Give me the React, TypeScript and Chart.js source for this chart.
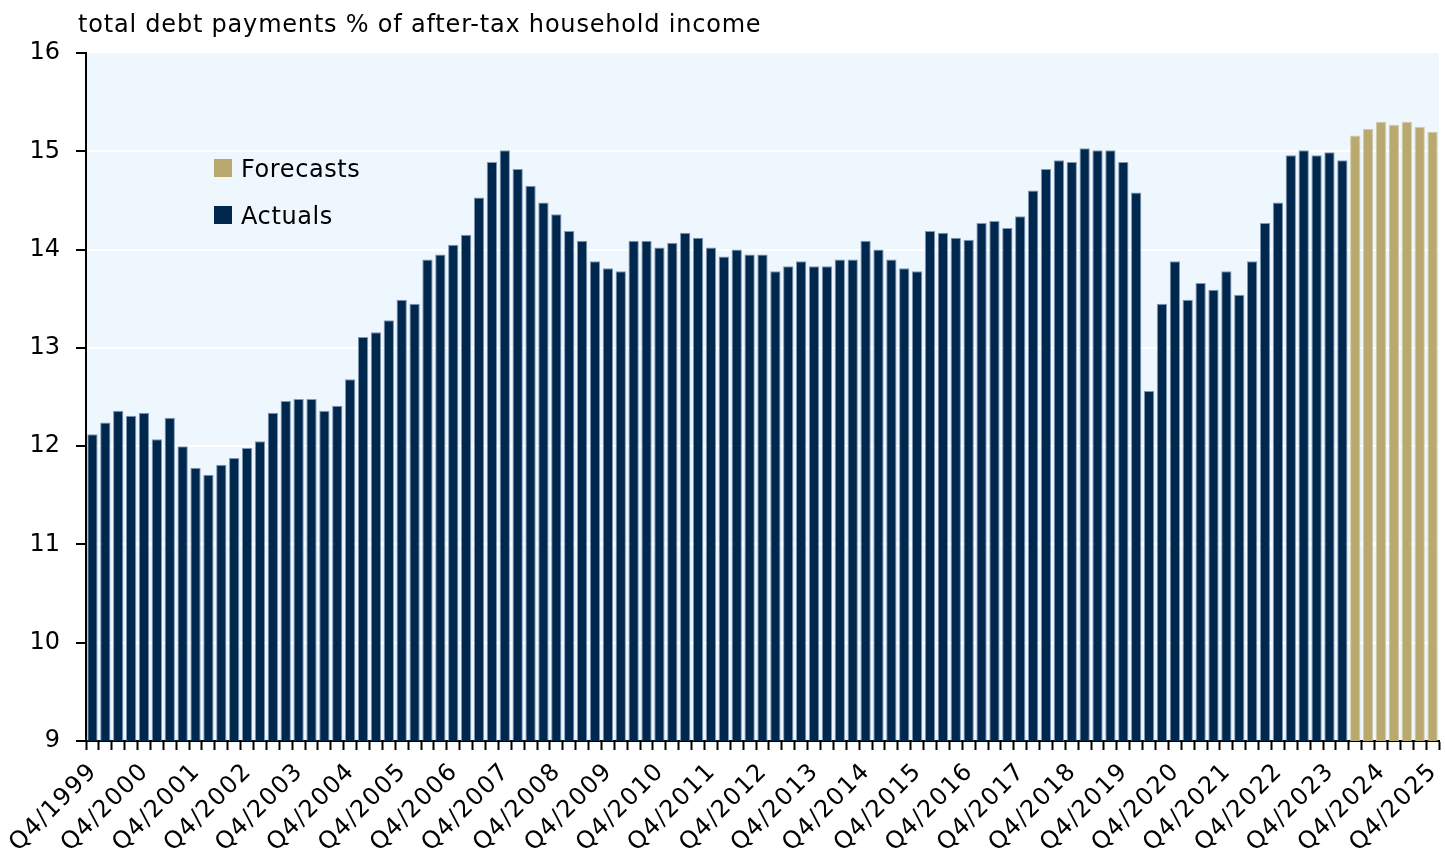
import React, { useEffect, useRef } from "react";
import { Chart, registerables } from "chart.js";

Chart.register(...registerables);

const TITLE = "total debt payments % of after-tax household income";

// Q4/1999 .. Q1/2024 (98 quarters)
const actuals: number[] = [
  12.12, 12.24, 12.36, 12.31, 12.34, 12.07, 12.29, 12.0, 11.78, 11.71,
  11.81, 11.88, 11.98, 12.05, 12.34, 12.46, 12.48, 12.48, 12.36, 12.41,
  12.68, 13.11, 13.16, 13.28, 13.49, 13.45, 13.9, 13.95, 14.05, 14.15,
  14.53, 14.89, 15.01, 14.82, 14.65, 14.48, 14.36, 14.19, 14.09, 13.88,
  13.81, 13.78, 14.09, 14.09, 14.02, 14.07, 14.17, 14.12, 14.02, 13.93,
  14.0, 13.95, 13.95, 13.78, 13.83, 13.88, 13.83, 13.83, 13.9, 13.9,
  14.09, 14.0, 13.9, 13.81, 13.78, 14.19, 14.17, 14.12, 14.1, 14.27,
  14.29, 14.22, 14.34, 14.6, 14.82, 14.91, 14.89, 15.03, 15.01, 15.01,
  14.89, 14.58, 12.56, 13.45, 13.88, 13.49, 13.66, 13.59, 13.78, 13.54,
  13.88, 14.27, 14.48, 14.96, 15.01, 14.96, 14.99, 14.91,
];

// Q2/2024 .. Q4/2025
const forecasts: number[] = [15.16, 15.23, 15.3, 15.27, 15.3, 15.25, 15.2];

const START_YEAR = 1999;
const START_QUARTER = 4;
const TOTAL = actuals.length + forecasts.length;
const labels: string[] = Array.from({ length: TOTAL }, (_, i) => {
  const k = START_QUARTER - 1 + i;
  return `Q${(k % 4) + 1}/${START_YEAR + Math.floor(k / 4)}`;
});
const LABEL_EVERY = 4;

const yTicks: number[] = [9, 10, 11, 12, 13, 14, 15, 16];

const NAVY = "#00284F";
const GOLD = "#B9A96E";
const FONT = "'DejaVu Sans', sans-serif";

export default function App() {
  const ref = useRef<HTMLCanvasElement | null>(null);

  useEffect(() => {
    if (!ref.current) return;
    const actualData = labels.map((_, i) => (i < actuals.length ? actuals[i] : null));
    const forecastData = labels.map((_, i) =>
      i >= actuals.length ? forecasts[i - actuals.length] : null
    );

    const bgPlugin = {
      id: "bg",
      beforeDraw(chart: any) {
        const { ctx, chartArea } = chart;
        ctx.save();
        ctx.fillStyle = "#EFF7FE";
        ctx.fillRect(chartArea.left, chartArea.top, chartArea.right - chartArea.left, chartArea.bottom - chartArea.top);
        ctx.restore();
      },
      afterDraw(chart: any) {
        const { ctx, chartArea } = chart;
        const xs = chart.scales.x;
        ctx.save();
        ctx.fillStyle = "#000";
        ctx.font = `24px ${FONT}`;
        (ctx as any).letterSpacing = "0.8px";
        ctx.textBaseline = "alphabetic";
        ctx.textAlign = "left";
        ctx.fillText(TITLE, 78, 32);
        // legend
        const items = [
          { label: "Forecasts", color: GOLD, y: 177 },
          { label: "Actuals", color: NAVY, y: 224 },
        ];
        (ctx as any).letterSpacing = "0.6px";
        for (const it of items) {
          ctx.fillStyle = it.color;
          ctx.fillRect(214, it.y - 18, 18, 18);
          ctx.fillStyle = "#000";
          ctx.fillText(it.label, 241, it.y);
        }
        // x tick labels
        ctx.font = `24px ${FONT}`;
        (ctx as any).letterSpacing = "1.3px";
        ctx.textAlign = "right";
        ctx.textBaseline = "middle";
        for (let i = 0; i < labels.length; i += LABEL_EVERY) {
          const x = xs.getPixelForValue(i);
          ctx.save();
          ctx.translate(x + 1, chartArea.bottom + 27);
          ctx.rotate(-Math.PI / 4);
          ctx.fillText(labels[i], 0, 0);
          ctx.restore();
        }
        ctx.restore();
      },
    };

    const chart = new Chart(ref.current, {
      type: "bar",
      data: {
        labels,
        datasets: [
          {
            label: "Actuals",
            data: actualData,
            backgroundColor: NAVY,
            borderColor: "rgba(100,128,160,0.8)",
            borderWidth: 1,
            grouped: false,
            barPercentage: 0.8,
            categoryPercentage: 1,
          },
          {
            label: "Forecasts",
            data: forecastData,
            backgroundColor: GOLD,
            borderColor: "rgba(205,198,160,0.9)",
            borderWidth: 1,
            grouped: false,
            barPercentage: 0.8,
            categoryPercentage: 1,
          },
        ],
      },
      options: {
        animation: false,
        responsive: true,
        maintainAspectRatio: false,
        layout: { padding: { top: 53, right: 6, left: 0, bottom: 0 } },
        plugins: {
          legend: { display: false },
          title: { display: false },
          tooltip: { enabled: false },
        },
        scales: {
          x: {
            afterFit(scale: any) {
              scale.height = 112;
              scale.paddingLeft = 0;
              scale.paddingRight = 0;
            },
            grid: {
              display: true,
              drawOnChartArea: false,
              drawTicks: true,
              tickLength: 9,
              tickColor: "#000",
              tickWidth: 2,
              offset: true,
            },
            border: { display: true, color: "#000", width: 2 },
            ticks: {
              display: false,
              autoSkip: false,
              maxRotation: 0,
            },
          },
          y: {
            min: 9,
            max: 16,
            afterFit(scale: any) {
              scale.width = 86;
              scale.paddingTop = 0;
              scale.paddingBottom = 0;
            },
            afterBuildTicks(scale: any) {
              scale.ticks = yTicks.map((v) => ({ value: v }));
            },
            grid: {
              color: (c: any) => (c.tick && (c.tick.value === 9 || c.tick.value === 16) ? "rgba(0,0,0,0)" : "#FFFFFF"),
              lineWidth: 2,
              tickColor: "#000",
              tickLength: 10,
              tickWidth: 2,
            },
            border: { display: true, color: "#000", width: 2 },
            ticks: {
              color: "#000",
              padding: 16,
              font: { family: FONT, size: 24 },
            },
          },
        },
      },
      plugins: [bgPlugin],
    });
    return () => chart.destroy();
  }, []);

  return (
    <div style={{ position: "fixed", left: 0, top: 0, width: 1445, height: 853 }}>
      <canvas ref={ref} />
    </div>
  );
}
